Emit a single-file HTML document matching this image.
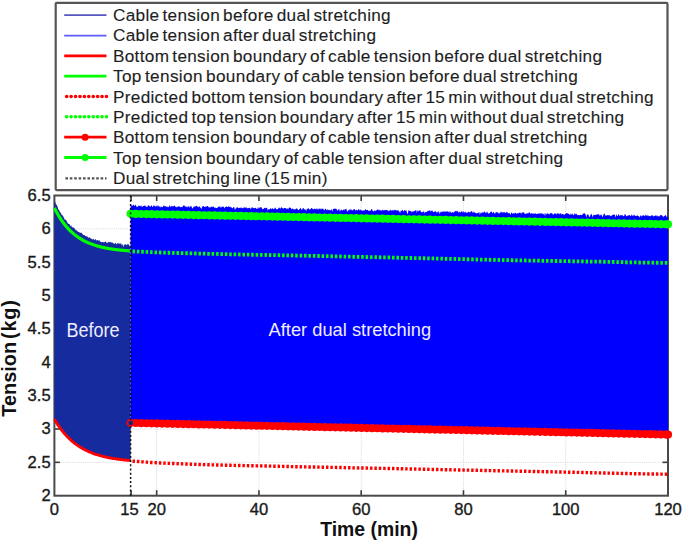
<!DOCTYPE html>
<html><head><meta charset="utf-8"><style>
html,body{margin:0;padding:0;background:#fff;}
body{width:685px;height:544px;overflow:hidden;font-family:"Liberation Sans",sans-serif;}
svg{display:block;}
</style></head><body>
<svg width="685" height="544" viewBox="0 0 685 544" font-family="Liberation Sans, sans-serif">
<rect width="685" height="544" fill="#fff"/>
<rect x="55.7" y="2.9" width="611.8" height="187.2" fill="#fff" stroke="#555" stroke-width="2.2" rx="1"/>
<line x1="64.2" y1="15.20" x2="106.5" y2="15.20" stroke="#5656c4" stroke-width="1.7"/><line x1="64.2" y1="35.53" x2="106.5" y2="35.53" stroke="#5c5cff" stroke-width="1.7"/><line x1="64.2" y1="55.86" x2="106.5" y2="55.86" stroke="#ff0000" stroke-width="2.8"/><line x1="64.2" y1="76.19" x2="106.5" y2="76.19" stroke="#00ff00" stroke-width="2.8"/><line x1="66.60000000000001" y1="96.52" x2="106.8" y2="96.52" stroke="#ff0000" stroke-width="3.5" stroke-linecap="round" stroke-dasharray="0.2 4.22"/><line x1="66.60000000000001" y1="116.85" x2="106.8" y2="116.85" stroke="#00ff00" stroke-width="3.5" stroke-linecap="round" stroke-dasharray="0.2 4.22"/><line x1="64.2" y1="137.18" x2="106.5" y2="137.18" stroke="#ff0000" stroke-width="2.8"/><circle cx="85.1" cy="137.18" r="3.5" fill="#ff0000"/><line x1="64.2" y1="157.51" x2="106.5" y2="157.51" stroke="#00ff00" stroke-width="2.8"/><circle cx="85.1" cy="157.51" r="3.5" fill="#00ff00"/><line x1="65.4" y1="178.34" x2="106.5" y2="178.34" stroke="#555" stroke-width="2.2" stroke-dasharray="2.6 1.8"/>
<g font-size="17.2" fill="#1e1e1e" stroke="#1e1e1e" stroke-width="0.12" letter-spacing="0.3" word-spacing="-2"><text x="113.0" y="20.90">Cable tension before dual stretching</text><text x="113.0" y="41.33">Cable tension after dual stretching</text><text x="113.0" y="61.76">Bottom tension boundary of cable tension before dual stretching</text><text x="113.0" y="82.19" letter-spacing="0.36">Top tension boundary of cable tension before dual stretching</text><text x="113.0" y="102.62">Predicted bottom tension boundary after 15 min without dual stretching</text><text x="113.0" y="123.05">Predicted top tension boundary after 15 min without dual stretching</text><text x="113.0" y="143.48">Bottom tension boundary of cable tension after dual stretching</text><text x="113.0" y="163.91" letter-spacing="0.36">Top tension boundary of cable tension after dual stretching</text><text x="113.0" y="184.34">Dual stretching line (15 min)</text></g>
<g stroke="#d4d4de" stroke-width="1" stroke-dasharray="1 1.2"><line x1="54.4" y1="462.34" x2="668.0" y2="462.34"/><line x1="54.4" y1="428.99" x2="668.0" y2="428.99"/><line x1="54.4" y1="395.63" x2="668.0" y2="395.63"/><line x1="54.4" y1="362.28" x2="668.0" y2="362.28"/><line x1="54.4" y1="328.92" x2="668.0" y2="328.92"/><line x1="54.4" y1="295.57" x2="668.0" y2="295.57"/><line x1="54.4" y1="262.21" x2="668.0" y2="262.21"/><line x1="54.4" y1="228.86" x2="668.0" y2="228.86"/><line x1="156.67" y1="195.5" x2="156.67" y2="495.7"/><line x1="258.93" y1="195.5" x2="258.93" y2="495.7"/><line x1="361.20" y1="195.5" x2="361.20" y2="495.7"/><line x1="463.47" y1="195.5" x2="463.47" y2="495.7"/><line x1="565.73" y1="195.5" x2="565.73" y2="495.7"/></g>
<g stroke="#3a3a3a" stroke-width="1.6"><line x1="54.4" y1="462.34" x2="59.9" y2="462.34"/><line x1="668.0" y1="462.34" x2="662.5" y2="462.34"/><line x1="54.4" y1="428.99" x2="59.9" y2="428.99"/><line x1="668.0" y1="428.99" x2="662.5" y2="428.99"/><line x1="54.4" y1="395.63" x2="59.9" y2="395.63"/><line x1="668.0" y1="395.63" x2="662.5" y2="395.63"/><line x1="54.4" y1="362.28" x2="59.9" y2="362.28"/><line x1="668.0" y1="362.28" x2="662.5" y2="362.28"/><line x1="54.4" y1="328.92" x2="59.9" y2="328.92"/><line x1="668.0" y1="328.92" x2="662.5" y2="328.92"/><line x1="54.4" y1="295.57" x2="59.9" y2="295.57"/><line x1="668.0" y1="295.57" x2="662.5" y2="295.57"/><line x1="54.4" y1="262.21" x2="59.9" y2="262.21"/><line x1="668.0" y1="262.21" x2="662.5" y2="262.21"/><line x1="54.4" y1="228.86" x2="59.9" y2="228.86"/><line x1="668.0" y1="228.86" x2="662.5" y2="228.86"/><line x1="131.10" y1="495.7" x2="131.10" y2="490.2"/><line x1="131.10" y1="195.5" x2="131.10" y2="201.0"/><line x1="156.67" y1="495.7" x2="156.67" y2="490.2"/><line x1="156.67" y1="195.5" x2="156.67" y2="201.0"/><line x1="258.93" y1="495.7" x2="258.93" y2="490.2"/><line x1="258.93" y1="195.5" x2="258.93" y2="201.0"/><line x1="361.20" y1="495.7" x2="361.20" y2="490.2"/><line x1="361.20" y1="195.5" x2="361.20" y2="201.0"/><line x1="463.47" y1="495.7" x2="463.47" y2="490.2"/><line x1="463.47" y1="195.5" x2="463.47" y2="201.0"/><line x1="565.73" y1="495.7" x2="565.73" y2="490.2"/><line x1="565.73" y1="195.5" x2="565.73" y2="201.0"/></g>
<rect x="54.4" y="195.5" width="613.60" height="300.20" fill="none" stroke="#4a4a4a" stroke-width="2"/>
<path d="M54.40,201.20 L55.20,201.95 L56.00,204.38 L56.80,204.81 L57.60,207.06 L58.40,209.52 L59.20,210.29 L60.00,212.37 L60.80,212.75 L61.60,214.65 L62.40,215.13 L63.20,216.27 L64.00,217.93 L64.80,219.68 L65.60,219.40 L66.40,220.53 L67.20,222.17 L68.00,223.63 L68.80,223.82 L69.60,224.31 L70.40,226.15 L71.20,225.24 L72.00,227.44 L72.80,227.13 L73.60,227.55 L74.40,228.16 L75.20,229.14 L76.00,230.67 L76.80,230.12 L77.60,231.41 L78.40,232.07 L79.20,232.12 L80.00,232.95 L80.80,232.57 L81.60,233.04 L82.40,233.76 L83.20,235.06 L84.00,235.03 L84.80,235.24 L85.60,236.13 L86.40,236.27 L87.20,236.36 L88.00,237.61 L88.80,237.78 L89.60,237.30 L90.40,238.21 L91.20,238.43 L92.00,239.36 L92.80,239.38 L93.60,238.86 L94.40,240.37 L95.20,239.08 L96.00,239.87 L96.80,240.72 L97.60,239.86 L98.40,240.68 L99.20,240.09 L100.00,241.43 L100.80,241.78 L101.60,242.14 L102.40,241.98 L103.20,241.93 L104.00,242.54 L104.80,242.03 L105.60,241.42 L106.40,242.61 L107.20,243.04 L108.00,242.38 L108.80,241.84 L109.60,242.21 L110.40,242.12 L111.20,242.35 L112.00,242.91 L112.80,242.45 L113.60,243.38 L114.40,243.95 L115.20,243.05 L116.00,243.27 L116.80,244.42 L117.60,243.08 L118.40,243.25 L119.20,243.96 L120.00,242.96 L120.80,243.67 L121.60,244.78 L122.40,244.04 L123.20,247.18 L124.00,244.61 L124.80,244.69 L125.60,244.01 L126.40,245.61 L127.20,243.74 L128.00,245.01 L128.80,243.70 L129.60,246.86 L130.40,244.59 L129.80,245.36 L130.60,245.41 L130.60,460.54 L130.40,460.52 L129.40,460.44 L128.40,460.35 L127.40,460.26 L126.40,460.16 L125.40,460.06 L124.40,459.96 L123.40,459.85 L122.40,459.74 L121.40,459.62 L120.40,459.50 L119.40,459.38 L118.40,459.24 L117.40,459.11 L116.40,458.97 L115.40,458.82 L114.40,458.66 L113.40,458.50 L112.40,458.33 L111.40,458.16 L110.40,457.98 L109.40,457.79 L108.40,457.59 L107.40,457.39 L106.40,457.18 L105.40,456.96 L104.40,456.73 L103.40,456.49 L102.40,456.24 L101.40,455.98 L100.40,455.71 L99.40,455.43 L98.40,455.13 L97.40,454.83 L96.40,454.51 L95.40,454.18 L94.40,453.84 L93.40,453.48 L92.40,453.11 L91.40,452.72 L90.40,452.32 L89.40,451.90 L88.40,451.46 L87.40,451.01 L86.40,450.53 L85.40,450.04 L84.40,449.53 L83.40,448.99 L82.40,448.44 L81.40,447.86 L80.40,447.26 L79.40,446.63 L78.40,445.98 L77.40,445.30 L76.40,444.60 L75.40,443.86 L74.40,443.10 L73.40,442.30 L72.40,441.47 L71.40,440.61 L70.40,439.72 L69.40,438.78 L68.40,437.81 L67.40,436.80 L66.40,435.74 L65.40,434.65 L64.40,433.51 L63.40,432.32 L62.40,431.09 L61.40,429.80 L60.40,428.46 L59.40,427.07 L58.40,425.62 L57.40,424.11 L56.40,422.54 L55.40,420.90 L54.40,419.20 Z" fill="#162c9e"/>
<path d="M130.60,204.91 L131.30,205.19 L132.00,206.36 L132.70,205.46 L133.40,204.56 L134.10,205.19 L134.80,206.37 L135.50,204.45 L136.20,205.68 L136.90,207.28 L137.60,206.79 L138.30,206.12 L139.00,205.34 L139.70,206.33 L140.40,206.36 L141.10,205.04 L141.80,206.88 L142.50,206.47 L143.20,206.32 L143.90,205.80 L144.60,205.70 L145.30,205.21 L146.00,206.90 L146.70,206.86 L147.40,206.92 L148.10,205.17 L148.80,205.13 L149.50,206.17 L150.20,206.70 L150.90,206.26 L151.60,204.91 L152.30,206.91 L153.00,206.54 L153.70,205.18 L154.40,205.56 L155.10,207.11 L155.80,205.76 L156.50,206.55 L157.20,205.12 L157.90,207.01 L158.60,205.20 L159.30,207.21 L160.00,205.72 L160.70,207.64 L161.40,206.46 L162.10,207.16 L162.80,207.02 L163.50,205.45 L164.20,205.66 L164.90,206.38 L165.60,205.99 L166.30,207.18 L167.00,206.11 L167.70,207.20 L168.40,207.24 L169.10,206.33 L169.80,205.11 L170.50,207.62 L171.20,205.51 L171.90,206.85 L172.60,205.90 L173.30,206.47 L174.00,205.40 L174.70,205.76 L175.40,207.03 L176.10,206.54 L176.80,207.39 L177.50,206.69 L178.20,206.46 L178.90,206.33 L179.60,206.40 L180.30,206.95 L181.00,207.55 L181.70,206.64 L182.40,207.33 L183.10,205.62 L183.80,205.51 L184.50,205.53 L185.20,207.25 L185.90,205.75 L186.60,206.98 L187.30,207.53 L188.00,205.95 L188.70,206.39 L189.40,207.82 L190.10,205.85 L190.80,206.71 L191.50,205.96 L192.20,208.84 L192.90,207.74 L193.60,207.03 L194.30,205.70 L195.00,207.45 L195.70,205.82 L196.40,205.68 L197.10,206.25 L197.80,206.63 L198.50,207.59 L199.20,206.00 L199.90,207.02 L200.60,207.76 L201.30,209.08 L202.00,207.22 L202.70,205.91 L203.40,205.88 L204.10,206.83 L204.80,207.08 L205.50,206.41 L206.20,207.04 L206.90,206.05 L207.60,205.93 L208.30,206.57 L209.00,207.65 L209.70,207.05 L210.40,207.69 L211.10,205.91 L211.80,207.21 L212.50,207.04 L213.20,206.17 L213.90,206.96 L214.60,207.94 L215.30,207.17 L216.00,208.33 L216.70,207.98 L217.40,207.52 L218.10,207.60 L218.80,206.19 L219.50,206.65 L220.20,206.25 L220.90,208.15 L221.60,206.75 L222.30,206.80 L223.00,206.48 L223.70,206.75 L224.40,208.47 L225.10,206.73 L225.80,206.90 L226.50,206.18 L227.20,207.33 L227.90,206.68 L228.60,206.23 L229.30,206.44 L230.00,207.45 L230.70,206.81 L231.40,207.54 L232.10,207.86 L232.80,208.41 L233.50,207.09 L234.20,206.68 L234.90,210.05 L235.60,208.49 L236.30,208.13 L237.00,206.71 L237.70,207.60 L238.40,208.34 L239.10,207.82 L239.80,208.07 L240.50,207.77 L241.20,207.33 L241.90,208.48 L242.60,207.99 L243.30,208.14 L244.00,206.52 L244.70,208.33 L245.40,207.83 L246.10,206.72 L246.80,208.21 L247.50,208.33 L248.20,208.37 L248.90,207.80 L249.60,207.77 L250.30,208.48 L251.00,208.99 L251.70,207.28 L252.40,207.41 L253.10,207.76 L253.80,208.32 L254.50,208.34 L255.20,207.97 L255.90,207.87 L256.60,208.91 L257.30,209.12 L258.00,206.83 L258.70,208.77 L259.40,207.90 L260.10,207.33 L260.80,207.35 L261.50,207.20 L262.20,209.16 L262.90,208.85 L263.60,209.03 L264.30,207.47 L265.00,208.60 L265.70,208.12 L266.40,207.68 L267.10,207.79 L267.80,211.00 L268.50,209.01 L269.20,209.23 L269.90,209.19 L270.60,207.93 L271.30,209.45 L272.00,207.93 L272.70,208.44 L273.40,209.09 L274.10,209.35 L274.80,207.76 L275.50,207.59 L276.20,209.44 L276.90,209.11 L277.60,209.36 L278.30,208.50 L279.00,207.32 L279.70,208.30 L280.40,208.77 L281.10,207.36 L281.80,207.56 L282.50,208.09 L283.20,209.06 L283.90,207.92 L284.60,208.03 L285.30,208.27 L286.00,207.72 L286.70,209.52 L287.40,207.89 L288.10,209.77 L288.80,207.73 L289.50,207.62 L290.20,207.64 L290.90,208.05 L291.60,209.58 L292.30,208.45 L293.00,208.73 L293.70,209.35 L294.40,209.82 L295.10,208.72 L295.80,209.60 L296.50,208.19 L297.20,208.51 L297.90,209.86 L298.60,210.24 L299.30,209.30 L300.00,208.75 L300.70,207.62 L301.40,209.86 L302.10,209.70 L302.80,208.26 L303.50,208.05 L304.20,209.33 L304.90,209.44 L305.60,209.55 L306.30,211.12 L307.00,208.30 L307.70,209.31 L308.40,208.08 L309.10,209.31 L309.80,209.62 L310.50,209.21 L311.20,208.37 L311.90,207.87 L312.60,208.96 L313.30,209.42 L314.00,209.02 L314.70,208.49 L315.40,209.60 L316.10,207.98 L316.80,209.56 L317.50,208.57 L318.20,210.19 L318.90,208.06 L319.60,209.00 L320.30,208.48 L321.00,209.79 L321.70,208.53 L322.40,208.80 L323.10,208.62 L323.80,209.90 L324.50,210.37 L325.20,208.55 L325.90,209.12 L326.60,210.41 L327.30,209.09 L328.00,210.49 L328.70,209.58 L329.40,210.34 L330.10,209.96 L330.80,210.45 L331.50,208.67 L332.20,211.86 L332.90,209.16 L333.60,209.06 L334.30,208.29 L335.00,209.14 L335.70,208.60 L336.40,208.82 L337.10,210.31 L337.80,210.83 L338.50,209.26 L339.20,208.84 L339.90,211.86 L340.60,210.35 L341.30,209.14 L342.00,210.64 L342.70,210.24 L343.40,209.27 L344.10,210.77 L344.80,209.11 L345.50,209.26 L346.20,208.52 L346.90,210.73 L347.60,211.77 L348.30,209.69 L349.00,210.86 L349.70,209.18 L350.40,209.78 L351.10,209.05 L351.80,210.39 L352.50,210.49 L353.20,209.44 L353.90,209.53 L354.60,208.87 L355.30,210.50 L356.00,210.46 L356.70,209.50 L357.40,210.85 L358.10,209.38 L358.80,208.99 L359.50,210.48 L360.20,209.35 L360.90,210.29 L361.60,210.61 L362.30,210.42 L363.00,210.86 L363.70,210.21 L364.40,210.64 L365.10,209.48 L365.80,209.26 L366.50,210.30 L367.20,209.87 L367.90,210.15 L368.60,210.89 L369.30,211.34 L370.00,210.12 L370.70,211.01 L371.40,209.10 L372.10,209.30 L372.80,211.37 L373.50,211.28 L374.20,211.14 L374.90,209.70 L375.60,211.36 L376.30,210.53 L377.00,209.64 L377.70,209.47 L378.40,209.75 L379.10,210.72 L379.80,209.20 L380.50,210.81 L381.20,209.95 L381.90,211.12 L382.60,209.38 L383.30,210.19 L384.00,210.79 L384.70,209.66 L385.40,210.26 L386.10,210.03 L386.80,210.06 L387.50,210.18 L388.20,211.41 L388.90,210.22 L389.60,211.11 L390.30,209.39 L391.00,210.40 L391.70,210.38 L392.40,210.52 L393.10,209.46 L393.80,210.98 L394.50,209.67 L395.20,210.36 L395.90,209.83 L396.60,210.75 L397.30,209.77 L398.00,211.46 L398.70,210.01 L399.40,211.82 L400.10,213.08 L400.80,210.51 L401.50,211.08 L402.20,209.99 L402.90,210.15 L403.60,211.67 L404.30,210.09 L405.00,210.62 L405.70,210.60 L406.40,210.28 L407.10,213.48 L407.80,213.71 L408.50,210.01 L409.20,211.06 L409.90,210.49 L410.60,211.17 L411.30,211.37 L412.00,212.59 L412.70,210.99 L413.40,211.66 L414.10,210.94 L414.80,210.99 L415.50,210.17 L416.20,210.10 L416.90,212.89 L417.60,210.10 L418.30,211.79 L419.00,210.07 L419.70,210.86 L420.40,210.29 L421.10,212.37 L421.80,211.95 L422.50,212.36 L423.20,212.31 L423.90,210.43 L424.60,213.48 L425.30,211.87 L426.00,212.22 L426.70,212.04 L427.40,211.30 L428.10,210.61 L428.80,211.34 L429.50,210.23 L430.20,210.54 L430.90,211.80 L431.60,210.59 L432.30,210.47 L433.00,211.74 L433.70,212.32 L434.40,211.63 L435.10,210.50 L435.80,211.77 L436.50,212.19 L437.20,212.67 L437.90,211.17 L438.60,211.38 L439.30,214.26 L440.00,210.95 L440.70,212.72 L441.40,211.97 L442.10,211.19 L442.80,211.88 L443.50,211.64 L444.20,210.74 L444.90,212.51 L445.60,211.31 L446.30,211.33 L447.00,211.88 L447.70,210.99 L448.40,211.65 L449.10,212.77 L449.80,210.90 L450.50,212.08 L451.20,212.44 L451.90,213.00 L452.60,211.94 L453.30,212.15 L454.00,212.87 L454.70,211.23 L455.40,210.75 L456.10,211.63 L456.80,210.81 L457.50,210.72 L458.20,212.96 L458.90,211.19 L459.60,211.94 L460.30,212.69 L461.00,211.50 L461.70,210.89 L462.40,212.66 L463.10,210.81 L463.80,212.60 L464.50,212.60 L465.20,211.38 L465.90,212.58 L466.60,212.66 L467.30,212.91 L468.00,211.53 L468.70,211.95 L469.40,212.18 L470.10,212.47 L470.80,211.47 L471.50,211.00 L472.20,211.54 L472.90,213.26 L473.60,211.79 L474.30,211.80 L475.00,213.21 L475.70,212.71 L476.40,213.41 L477.10,213.09 L477.80,213.14 L478.50,212.84 L479.20,211.85 L479.90,214.94 L480.60,212.20 L481.30,213.38 L482.00,212.09 L482.70,212.84 L483.40,212.87 L484.10,211.36 L484.80,212.09 L485.50,213.20 L486.20,211.41 L486.90,213.46 L487.60,211.53 L488.30,213.75 L489.00,213.25 L489.70,213.30 L490.40,212.02 L491.10,211.58 L491.80,211.85 L492.50,213.40 L493.20,212.06 L493.90,212.28 L494.60,213.73 L495.30,213.47 L496.00,211.51 L496.70,212.50 L497.40,212.30 L498.10,212.77 L498.80,213.56 L499.50,213.48 L500.20,211.52 L500.90,213.36 L501.60,211.56 L502.30,212.74 L503.00,212.02 L503.70,212.42 L504.40,212.23 L505.10,212.30 L505.80,213.31 L506.50,211.91 L507.20,211.85 L507.90,213.35 L508.60,213.19 L509.30,212.66 L510.00,213.85 L510.70,214.77 L511.40,212.37 L512.10,212.96 L512.80,213.89 L513.50,212.89 L514.20,213.61 L514.90,213.36 L515.60,212.61 L516.30,213.86 L517.00,213.63 L517.70,212.92 L518.40,213.27 L519.10,213.00 L519.80,212.48 L520.50,212.64 L521.20,213.96 L521.90,212.32 L522.60,212.74 L523.30,212.36 L524.00,212.44 L524.70,213.75 L525.40,214.32 L526.10,212.95 L526.80,213.95 L527.50,213.10 L528.20,213.60 L528.90,212.58 L529.60,212.18 L530.30,214.01 L531.00,213.32 L531.70,213.25 L532.40,213.60 L533.10,213.94 L533.80,213.21 L534.50,213.99 L535.20,212.75 L535.90,214.33 L536.60,213.91 L537.30,213.88 L538.00,213.35 L538.70,213.78 L539.40,213.29 L540.10,214.01 L540.80,212.91 L541.50,213.42 L542.20,213.32 L542.90,214.59 L543.60,213.94 L544.30,213.32 L545.00,216.32 L545.70,212.80 L546.40,214.68 L547.10,212.68 L547.80,213.75 L548.50,213.69 L549.20,214.47 L549.90,213.48 L550.60,213.01 L551.30,213.46 L552.00,212.83 L552.70,214.45 L553.40,214.86 L554.10,213.58 L554.80,213.43 L555.50,213.14 L556.20,214.87 L556.90,213.15 L557.60,213.58 L558.30,212.97 L559.00,214.61 L559.70,213.81 L560.40,213.24 L561.10,213.56 L561.80,214.69 L562.50,213.86 L563.20,214.07 L563.90,214.77 L564.60,214.82 L565.30,213.70 L566.00,213.83 L566.70,212.83 L567.40,213.51 L568.10,213.57 L568.80,213.89 L569.50,214.46 L570.20,215.12 L570.90,213.04 L571.60,215.09 L572.30,213.27 L573.00,214.99 L573.70,215.24 L574.40,213.57 L575.10,213.33 L575.80,214.86 L576.50,213.38 L577.20,214.93 L577.90,215.18 L578.60,214.93 L579.30,215.21 L580.00,215.09 L580.70,214.76 L581.40,214.89 L582.10,215.24 L582.80,213.77 L583.50,213.48 L584.20,213.30 L584.90,213.52 L585.60,214.39 L586.30,217.46 L587.00,214.34 L587.70,214.83 L588.40,214.14 L589.10,217.34 L589.80,216.52 L590.50,214.92 L591.20,214.09 L591.90,214.54 L592.60,217.42 L593.30,214.84 L594.00,215.42 L594.70,214.51 L595.40,215.23 L596.10,214.44 L596.80,214.74 L597.50,214.13 L598.20,214.41 L598.90,214.10 L599.60,215.80 L600.30,215.38 L601.00,214.25 L601.70,214.91 L602.40,217.35 L603.10,215.66 L603.80,213.66 L604.50,213.57 L605.20,215.78 L605.90,215.17 L606.60,215.78 L607.30,215.09 L608.00,215.30 L608.70,215.28 L609.40,215.26 L610.10,215.50 L610.80,216.17 L611.50,215.89 L612.20,214.60 L612.90,215.61 L613.60,214.36 L614.30,214.76 L615.00,214.80 L615.70,217.65 L616.40,213.89 L617.10,215.75 L617.80,216.02 L618.50,213.87 L619.20,215.27 L619.90,216.21 L620.60,214.86 L621.30,215.43 L622.00,214.78 L622.70,215.56 L623.40,216.25 L624.10,216.03 L624.80,214.00 L625.50,214.55 L626.20,216.48 L626.90,215.71 L627.60,215.76 L628.30,215.53 L629.00,215.14 L629.70,214.66 L630.40,216.32 L631.10,215.64 L631.80,214.28 L632.50,215.86 L633.20,216.19 L633.90,214.28 L634.60,215.53 L635.30,215.79 L636.00,216.09 L636.70,215.74 L637.40,215.21 L638.10,216.10 L638.80,216.11 L639.50,217.39 L640.20,215.94 L640.90,215.07 L641.60,216.63 L642.30,215.74 L643.00,215.34 L643.70,215.23 L644.40,215.78 L645.10,216.29 L645.80,214.37 L646.50,215.39 L647.20,216.35 L647.90,214.51 L648.60,216.37 L649.30,215.81 L650.00,216.49 L650.70,216.11 L651.40,215.31 L652.10,215.82 L652.80,214.98 L653.50,216.75 L654.20,215.99 L654.90,215.66 L655.60,215.17 L656.30,216.47 L657.00,214.80 L657.70,216.45 L658.40,216.00 L659.10,216.75 L659.80,215.78 L660.50,215.11 L661.20,215.10 L661.90,215.55 L662.60,215.66 L663.30,217.56 L664.00,215.62 L664.70,216.25 L665.40,215.12 L666.10,215.59 L666.80,217.31 L667.50,216.87 L668.00,216.00 L668.00,434.60 L130.60,422.90 Z" fill="#0000ff"/>
<path d="M54.40,419.20 L55.10,420.40 L55.80,421.56 L56.50,422.70 L57.20,423.80 L57.90,424.87 L58.60,425.91 L59.30,426.92 L60.00,427.91 L60.70,428.87 L61.40,429.80 L62.10,430.70 L62.80,431.59 L63.50,432.44 L64.20,433.27 L64.90,434.08 L65.60,434.87 L66.30,435.64 L67.00,436.38 L67.70,437.11 L68.40,437.81 L69.10,438.49 L69.80,439.16 L70.50,439.81 L71.20,440.44 L71.90,441.05 L72.60,441.64 L73.30,442.22 L74.00,442.78 L74.70,443.33 L75.40,443.86 L76.10,444.38 L76.80,444.88 L77.50,445.37 L78.20,445.85 L78.90,446.31 L79.60,446.76 L80.30,447.20 L81.00,447.62 L81.70,448.04 L82.40,448.44 L83.10,448.83 L83.80,449.21 L84.50,449.58 L85.20,449.94 L85.90,450.29 L86.60,450.63 L87.30,450.96 L88.00,451.28 L88.70,451.59 L89.40,451.90 L90.10,452.19 L90.80,452.48 L91.50,452.76 L92.20,453.03 L92.90,453.30 L93.60,453.55 L94.30,453.80 L95.00,454.05 L95.70,454.28 L96.40,454.51 L97.10,454.73 L97.80,454.95 L98.50,455.16 L99.20,455.37 L99.90,455.57 L100.60,455.76 L101.30,455.95 L102.00,456.13 L102.70,456.31 L103.40,456.49 L104.10,456.66 L104.80,456.82 L105.50,456.98 L106.20,457.13 L106.90,457.29 L107.60,457.43 L108.30,457.57 L109.00,457.71 L109.70,457.85 L110.40,457.98 L111.10,458.11 L111.80,458.23 L112.50,458.35 L113.20,458.47 L113.90,458.58 L114.60,458.69 L115.30,458.80 L116.00,458.91 L116.70,459.01 L117.40,459.11 L118.10,459.20 L118.80,459.30 L119.50,459.39 L120.20,459.48 L120.90,459.56 L121.60,459.65 L122.30,459.73 L123.00,459.81 L123.70,459.89 L124.40,459.96 L125.10,460.03 L125.80,460.10 L126.50,460.17 L127.20,460.24 L127.90,460.31 L128.60,460.37 L129.30,460.43 L130.00,460.49 L130.60,460.54" fill="none" stroke="#ff0000" stroke-width="2.9"/>
<path d="M54.40,208.00 L55.10,209.39 L55.80,210.73 L56.50,212.03 L57.20,213.29 L57.90,214.52 L58.60,215.70 L59.30,216.85 L60.00,217.96 L60.70,219.03 L61.40,220.07 L62.10,221.08 L62.80,222.06 L63.50,223.01 L64.20,223.92 L64.90,224.81 L65.60,225.67 L66.30,226.51 L67.00,227.32 L67.70,228.10 L68.40,228.86 L69.10,229.59 L69.80,230.30 L70.50,230.99 L71.20,231.66 L71.90,232.30 L72.60,232.93 L73.30,233.54 L74.00,234.12 L74.70,234.69 L75.40,235.25 L76.10,235.78 L76.80,236.30 L77.50,236.80 L78.20,237.28 L78.90,237.75 L79.60,238.21 L80.30,238.65 L81.00,239.08 L81.70,239.49 L82.40,239.89 L83.10,240.28 L83.80,240.66 L84.50,241.02 L85.20,241.38 L85.90,241.72 L86.60,242.05 L87.30,242.37 L88.00,242.68 L88.70,242.98 L89.40,243.27 L90.10,243.56 L90.80,243.83 L91.50,244.10 L92.20,244.35 L92.90,244.60 L93.60,244.84 L94.30,245.08 L95.00,245.30 L95.70,245.52 L96.40,245.73 L97.10,245.94 L97.80,246.14 L98.50,246.33 L99.20,246.52 L99.90,246.70 L100.60,246.88 L101.30,247.05 L102.00,247.21 L102.70,247.37 L103.40,247.52 L104.10,247.67 L104.80,247.82 L105.50,247.96 L106.20,248.09 L106.90,248.23 L107.60,248.35 L108.30,248.48 L109.00,248.60 L109.70,248.71 L110.40,248.83 L111.10,248.93 L111.80,249.04 L112.50,249.14 L113.20,249.24 L113.90,249.34 L114.60,249.43 L115.30,249.52 L116.00,249.61 L116.70,249.69 L117.40,249.77 L118.10,249.85 L118.80,249.93 L119.50,250.00 L120.20,250.07 L120.90,250.14 L121.60,250.21 L122.30,250.28 L123.00,250.34 L123.70,250.40 L124.40,250.46 L125.10,250.52 L125.80,250.57 L126.50,250.63 L127.20,250.68 L127.90,250.73 L128.60,250.78 L129.30,250.83 L130.00,250.87 L130.60,250.92" fill="none" stroke="#00ff00" stroke-width="3.2"/>
<path d="M132.50,461.08 L134.50,461.20 L136.50,461.34 L138.50,461.49 L140.50,461.65 L142.50,461.82 L144.50,461.99 L146.50,462.15 L148.50,462.30 L150.50,462.43 L152.50,462.54 L154.50,462.65 L156.50,462.75 L158.50,462.85 L160.50,462.95 L162.50,463.04 L164.50,463.14 L166.50,463.23 L168.50,463.33 L170.50,463.42 L172.50,463.49 L174.50,463.57 L176.50,463.65 L178.50,463.72 L180.50,463.80 L182.50,463.88 L184.50,463.95 L186.50,464.03 L188.50,464.11 L190.50,464.18 L192.50,464.25 L194.50,464.33 L196.50,464.40 L198.50,464.46 L200.50,464.51 L202.50,464.57 L204.50,464.63 L206.50,464.68 L208.50,464.74 L210.50,464.79 L212.50,464.85 L214.50,464.90 L216.50,464.96 L218.50,465.01 L220.50,465.06 L222.50,465.11 L224.50,465.16 L226.50,465.21 L228.50,465.26 L230.50,465.31 L232.50,465.36 L234.50,465.40 L236.50,465.44 L238.50,465.49 L240.50,465.53 L242.50,465.57 L244.50,465.61 L246.50,465.65 L248.50,465.69 L250.50,465.72 L252.50,465.76 L254.50,465.80 L256.50,465.84 L258.50,465.88 L260.50,465.92 L262.50,465.97 L264.50,466.01 L266.50,466.05 L268.50,466.09 L270.50,466.14 L272.50,466.18 L274.50,466.22 L276.50,466.26 L278.50,466.31 L280.50,466.35 L282.50,466.39 L284.50,466.44 L286.50,466.48 L288.50,466.53 L290.50,466.57 L292.50,466.62 L294.50,466.67 L296.50,466.71 L298.50,466.76 L300.50,466.81 L302.50,466.84 L304.50,466.88 L306.50,466.91 L308.50,466.95 L310.50,466.98 L312.50,467.01 L314.50,467.05 L316.50,467.08 L318.50,467.11 L320.50,467.15 L322.50,467.18 L324.50,467.22 L326.50,467.25 L328.50,467.29 L330.50,467.33 L332.50,467.37 L334.50,467.41 L336.50,467.45 L338.50,467.50 L340.50,467.54 L342.50,467.59 L344.50,467.65 L346.50,467.70 L348.50,467.76 L350.50,467.81 L352.50,467.84 L354.50,467.87 L356.50,467.90 L358.50,467.93 L360.50,467.97 L362.50,468.00 L364.50,468.04 L366.50,468.07 L368.50,468.11 L370.50,468.14 L372.50,468.18 L374.50,468.22 L376.50,468.25 L378.50,468.29 L380.50,468.33 L382.50,468.37 L384.50,468.41 L386.50,468.45 L388.50,468.49 L390.50,468.53 L392.50,468.57 L394.50,468.61 L396.50,468.65 L398.50,468.69 L400.50,468.74 L402.50,468.78 L404.50,468.82 L406.50,468.86 L408.50,468.91 L410.50,468.95 L412.50,468.99 L414.50,469.03 L416.50,469.08 L418.50,469.12 L420.50,469.16 L422.50,469.21 L424.50,469.25 L426.50,469.30 L428.50,469.34 L430.50,469.38 L432.50,469.43 L434.50,469.47 L436.50,469.51 L438.50,469.56 L440.50,469.60 L442.50,469.64 L444.50,469.68 L446.50,469.73 L448.50,469.77 L450.50,469.81 L452.50,469.85 L454.50,469.89 L456.50,469.92 L458.50,469.96 L460.50,470.00 L462.50,470.04 L464.50,470.08 L466.50,470.12 L468.50,470.16 L470.50,470.20 L472.50,470.24 L474.50,470.28 L476.50,470.32 L478.50,470.36 L480.50,470.40 L482.50,470.44 L484.50,470.48 L486.50,470.52 L488.50,470.56 L490.50,470.60 L492.50,470.64 L494.50,470.68 L496.50,470.72 L498.50,470.76 L500.50,470.80 L502.50,470.84 L504.50,470.88 L506.50,470.92 L508.50,470.96 L510.50,471.00 L512.50,471.04 L514.50,471.08 L516.50,471.12 L518.50,471.16 L520.50,471.20 L522.50,471.24 L524.50,471.28 L526.50,471.32 L528.50,471.36 L530.50,471.40 L532.50,471.45 L534.50,471.49 L536.50,471.53 L538.50,471.57 L540.50,471.61 L542.50,471.65 L544.50,471.69 L546.50,471.73 L548.50,471.77 L550.50,471.81 L552.50,471.85 L554.50,471.89 L556.50,471.93 L558.50,471.97 L560.50,472.01 L562.50,472.05 L564.50,472.09 L566.50,472.14 L568.50,472.18 L570.50,472.22 L572.50,472.27 L574.50,472.31 L576.50,472.36 L578.50,472.40 L580.50,472.45 L582.50,472.50 L584.50,472.54 L586.50,472.59 L588.50,472.64 L590.50,472.68 L592.50,472.73 L594.50,472.78 L596.50,472.83 L598.50,472.87 L600.50,472.92 L602.50,472.97 L604.50,473.02 L606.50,473.06 L608.50,473.11 L610.50,473.16 L612.50,473.20 L614.50,473.25 L616.50,473.29 L618.50,473.34 L620.50,473.38 L622.50,473.43 L624.50,473.47 L626.50,473.51 L628.50,473.56 L630.50,473.60 L632.50,473.64 L634.50,473.68 L636.50,473.72 L638.50,473.76 L640.50,473.80 L642.50,473.83 L644.50,473.87 L646.50,473.90 L648.50,473.94 L650.50,473.97 L652.50,474.00 L654.50,474.03 L656.50,474.06 L658.50,474.09 L660.50,474.11 L662.50,474.14 L664.50,474.16 L666.50,474.18 L668.00,474.20" fill="none" stroke="#ff0000" stroke-width="3.4" stroke-dasharray="2.5 1.9"/>
<path d="M132.50,251.44 L134.50,251.49 L136.50,251.55 L138.50,251.62 L140.50,251.69 L142.50,251.77 L144.50,251.85 L146.50,251.93 L148.50,252.02 L150.50,252.11 L152.50,252.19 L154.50,252.28 L156.50,252.36 L158.50,252.44 L160.50,252.51 L162.50,252.57 L164.50,252.62 L166.50,252.68 L168.50,252.73 L170.50,252.79 L172.50,252.84 L174.50,252.90 L176.50,252.95 L178.50,253.01 L180.50,253.06 L182.50,253.12 L184.50,253.17 L186.50,253.23 L188.50,253.28 L190.50,253.34 L192.50,253.39 L194.50,253.45 L196.50,253.50 L198.50,253.56 L200.50,253.61 L202.50,253.66 L204.50,253.70 L206.50,253.74 L208.50,253.79 L210.50,253.83 L212.50,253.88 L214.50,253.92 L216.50,253.97 L218.50,254.02 L220.50,254.06 L222.50,254.11 L224.50,254.15 L226.50,254.20 L228.50,254.24 L230.50,254.29 L232.50,254.33 L234.50,254.37 L236.50,254.42 L238.50,254.46 L240.50,254.50 L242.50,254.55 L244.50,254.59 L246.50,254.63 L248.50,254.67 L250.50,254.71 L252.50,254.75 L254.50,254.79 L256.50,254.83 L258.50,254.86 L260.50,254.90 L262.50,254.93 L264.50,254.97 L266.50,255.00 L268.50,255.04 L270.50,255.07 L272.50,255.11 L274.50,255.14 L276.50,255.18 L278.50,255.21 L280.50,255.24 L282.50,255.28 L284.50,255.31 L286.50,255.35 L288.50,255.38 L290.50,255.42 L292.50,255.46 L294.50,255.49 L296.50,255.53 L298.50,255.57 L300.50,255.61 L302.50,255.65 L304.50,255.69 L306.50,255.73 L308.50,255.78 L310.50,255.82 L312.50,255.86 L314.50,255.90 L316.50,255.95 L318.50,255.99 L320.50,256.04 L322.50,256.08 L324.50,256.13 L326.50,256.17 L328.50,256.22 L330.50,256.26 L332.50,256.31 L334.50,256.35 L336.50,256.40 L338.50,256.44 L340.50,256.49 L342.50,256.53 L344.50,256.58 L346.50,256.62 L348.50,256.67 L350.50,256.71 L352.50,256.75 L354.50,256.79 L356.50,256.83 L358.50,256.87 L360.50,256.91 L362.50,256.95 L364.50,256.99 L366.50,257.02 L368.50,257.06 L370.50,257.10 L372.50,257.13 L374.50,257.17 L376.50,257.21 L378.50,257.25 L380.50,257.29 L382.50,257.33 L384.50,257.38 L386.50,257.42 L388.50,257.47 L390.50,257.52 L392.50,257.58 L394.50,257.63 L396.50,257.69 L398.50,257.75 L400.50,257.81 L402.50,257.84 L404.50,257.88 L406.50,257.91 L408.50,257.95 L410.50,257.99 L412.50,258.03 L414.50,258.07 L416.50,258.11 L418.50,258.15 L420.50,258.19 L422.50,258.23 L424.50,258.27 L426.50,258.32 L428.50,258.36 L430.50,258.41 L432.50,258.45 L434.50,258.50 L436.50,258.54 L438.50,258.59 L440.50,258.64 L442.50,258.68 L444.50,258.73 L446.50,258.78 L448.50,258.83 L450.50,258.87 L452.50,258.92 L454.50,258.97 L456.50,259.02 L458.50,259.07 L460.50,259.12 L462.50,259.16 L464.50,259.21 L466.50,259.26 L468.50,259.31 L470.50,259.35 L472.50,259.40 L474.50,259.45 L476.50,259.49 L478.50,259.54 L480.50,259.59 L482.50,259.63 L484.50,259.68 L486.50,259.72 L488.50,259.76 L490.50,259.81 L492.50,259.85 L494.50,259.89 L496.50,259.93 L498.50,259.97 L500.50,260.01 L502.50,260.05 L504.50,260.09 L506.50,260.13 L508.50,260.16 L510.50,260.20 L512.50,260.24 L514.50,260.28 L516.50,260.31 L518.50,260.35 L520.50,260.39 L522.50,260.43 L524.50,260.46 L526.50,260.50 L528.50,260.54 L530.50,260.57 L532.50,260.61 L534.50,260.64 L536.50,260.68 L538.50,260.71 L540.50,260.75 L542.50,260.78 L544.50,260.82 L546.50,260.85 L548.50,260.89 L550.50,260.92 L552.50,260.95 L554.50,260.99 L556.50,261.02 L558.50,261.06 L560.50,261.09 L562.50,261.12 L564.50,261.15 L566.50,261.19 L568.50,261.22 L570.50,261.25 L572.50,261.28 L574.50,261.31 L576.50,261.35 L578.50,261.38 L580.50,261.41 L582.50,261.44 L584.50,261.47 L586.50,261.50 L588.50,261.53 L590.50,261.56 L592.50,261.59 L594.50,261.62 L596.50,261.65 L598.50,261.68 L600.50,261.71 L602.50,261.75 L604.50,261.80 L606.50,261.84 L608.50,261.88 L610.50,261.92 L612.50,261.97 L614.50,262.01 L616.50,262.05 L618.50,262.09 L620.50,262.14 L622.50,262.18 L624.50,262.22 L626.50,262.26 L628.50,262.30 L630.50,262.34 L632.50,262.38 L634.50,262.42 L636.50,262.45 L638.50,262.49 L640.50,262.53 L642.50,262.56 L644.50,262.59 L646.50,262.63 L648.50,262.66 L650.50,262.69 L652.50,262.72 L654.50,262.75 L656.50,262.77 L658.50,262.80 L660.50,262.82 L662.50,262.85 L664.50,262.87 L666.50,262.89 L668.00,262.90" fill="none" stroke="#00ff00" stroke-width="3.8" stroke-dasharray="2.5 1.9"/>
<line x1="134.2" y1="422.98" x2="668" y2="434.60" stroke="#ff0000" stroke-width="5.6"/>
<g fill="#ff0000"><circle cx="135.85" cy="423.01" r="4.1"/><circle cx="141.10" cy="423.13" r="4.1"/><circle cx="146.35" cy="423.24" r="4.1"/><circle cx="151.60" cy="423.36" r="4.1"/><circle cx="156.85" cy="423.47" r="4.1"/><circle cx="162.10" cy="423.59" r="4.1"/><circle cx="167.35" cy="423.70" r="4.1"/><circle cx="172.60" cy="423.81" r="4.1"/><circle cx="177.85" cy="423.93" r="4.1"/><circle cx="183.10" cy="424.04" r="4.1"/><circle cx="188.35" cy="424.16" r="4.1"/><circle cx="193.60" cy="424.27" r="4.1"/><circle cx="198.85" cy="424.39" r="4.1"/><circle cx="204.10" cy="424.50" r="4.1"/><circle cx="209.35" cy="424.61" r="4.1"/><circle cx="214.60" cy="424.73" r="4.1"/><circle cx="219.85" cy="424.84" r="4.1"/><circle cx="225.10" cy="424.96" r="4.1"/><circle cx="230.35" cy="425.07" r="4.1"/><circle cx="235.60" cy="425.19" r="4.1"/><circle cx="240.85" cy="425.30" r="4.1"/><circle cx="246.10" cy="425.41" r="4.1"/><circle cx="251.35" cy="425.53" r="4.1"/><circle cx="256.60" cy="425.64" r="4.1"/><circle cx="261.85" cy="425.76" r="4.1"/><circle cx="267.10" cy="425.87" r="4.1"/><circle cx="272.35" cy="425.99" r="4.1"/><circle cx="277.60" cy="426.10" r="4.1"/><circle cx="282.85" cy="426.21" r="4.1"/><circle cx="288.10" cy="426.33" r="4.1"/><circle cx="293.35" cy="426.44" r="4.1"/><circle cx="298.60" cy="426.56" r="4.1"/><circle cx="303.85" cy="426.67" r="4.1"/><circle cx="309.10" cy="426.79" r="4.1"/><circle cx="314.35" cy="426.90" r="4.1"/><circle cx="319.60" cy="427.01" r="4.1"/><circle cx="324.85" cy="427.13" r="4.1"/><circle cx="330.10" cy="427.24" r="4.1"/><circle cx="335.35" cy="427.36" r="4.1"/><circle cx="340.60" cy="427.47" r="4.1"/><circle cx="345.85" cy="427.59" r="4.1"/><circle cx="351.10" cy="427.70" r="4.1"/><circle cx="356.35" cy="427.81" r="4.1"/><circle cx="361.60" cy="427.93" r="4.1"/><circle cx="366.85" cy="428.04" r="4.1"/><circle cx="372.10" cy="428.16" r="4.1"/><circle cx="377.35" cy="428.27" r="4.1"/><circle cx="382.60" cy="428.39" r="4.1"/><circle cx="387.85" cy="428.50" r="4.1"/><circle cx="393.10" cy="428.62" r="4.1"/><circle cx="398.35" cy="428.73" r="4.1"/><circle cx="403.60" cy="428.84" r="4.1"/><circle cx="408.85" cy="428.96" r="4.1"/><circle cx="414.10" cy="429.07" r="4.1"/><circle cx="419.35" cy="429.19" r="4.1"/><circle cx="424.60" cy="429.30" r="4.1"/><circle cx="429.85" cy="429.42" r="4.1"/><circle cx="435.10" cy="429.53" r="4.1"/><circle cx="440.35" cy="429.64" r="4.1"/><circle cx="445.60" cy="429.76" r="4.1"/><circle cx="450.85" cy="429.87" r="4.1"/><circle cx="456.10" cy="429.99" r="4.1"/><circle cx="461.35" cy="430.10" r="4.1"/><circle cx="466.60" cy="430.22" r="4.1"/><circle cx="471.85" cy="430.33" r="4.1"/><circle cx="477.10" cy="430.44" r="4.1"/><circle cx="482.35" cy="430.56" r="4.1"/><circle cx="487.60" cy="430.67" r="4.1"/><circle cx="492.85" cy="430.79" r="4.1"/><circle cx="498.10" cy="430.90" r="4.1"/><circle cx="503.35" cy="431.02" r="4.1"/><circle cx="508.60" cy="431.13" r="4.1"/><circle cx="513.85" cy="431.24" r="4.1"/><circle cx="519.10" cy="431.36" r="4.1"/><circle cx="524.35" cy="431.47" r="4.1"/><circle cx="529.60" cy="431.59" r="4.1"/><circle cx="534.85" cy="431.70" r="4.1"/><circle cx="540.10" cy="431.82" r="4.1"/><circle cx="545.35" cy="431.93" r="4.1"/><circle cx="550.60" cy="432.04" r="4.1"/><circle cx="555.85" cy="432.16" r="4.1"/><circle cx="561.10" cy="432.27" r="4.1"/><circle cx="566.35" cy="432.39" r="4.1"/><circle cx="571.60" cy="432.50" r="4.1"/><circle cx="576.85" cy="432.62" r="4.1"/><circle cx="582.10" cy="432.73" r="4.1"/><circle cx="587.35" cy="432.84" r="4.1"/><circle cx="592.60" cy="432.96" r="4.1"/><circle cx="597.85" cy="433.07" r="4.1"/><circle cx="603.10" cy="433.19" r="4.1"/><circle cx="608.35" cy="433.30" r="4.1"/><circle cx="613.60" cy="433.42" r="4.1"/><circle cx="618.85" cy="433.53" r="4.1"/><circle cx="624.10" cy="433.64" r="4.1"/><circle cx="629.35" cy="433.76" r="4.1"/><circle cx="634.60" cy="433.87" r="4.1"/><circle cx="639.85" cy="433.99" r="4.1"/><circle cx="645.10" cy="434.10" r="4.1"/><circle cx="650.35" cy="434.22" r="4.1"/><circle cx="655.60" cy="434.33" r="4.1"/><circle cx="660.85" cy="434.44" r="4.1"/><circle cx="666.10" cy="434.56" r="4.1"/><circle cx="668.00" cy="434.60" r="4.1"/></g>
<circle cx="130.6" cy="422.90" r="3.3" fill="#142a96" stroke="#ff0000" stroke-width="1.7"/>
<line x1="130.6" y1="213.80" x2="668" y2="224.30" stroke="#00ff00" stroke-width="5.6"/>
<g fill="#00ff00"><circle cx="130.60" cy="213.80" r="4.1"/><circle cx="135.85" cy="213.90" r="4.1"/><circle cx="141.10" cy="214.01" r="4.1"/><circle cx="146.35" cy="214.11" r="4.1"/><circle cx="151.60" cy="214.21" r="4.1"/><circle cx="156.85" cy="214.31" r="4.1"/><circle cx="162.10" cy="214.42" r="4.1"/><circle cx="167.35" cy="214.52" r="4.1"/><circle cx="172.60" cy="214.62" r="4.1"/><circle cx="177.85" cy="214.72" r="4.1"/><circle cx="183.10" cy="214.83" r="4.1"/><circle cx="188.35" cy="214.93" r="4.1"/><circle cx="193.60" cy="215.03" r="4.1"/><circle cx="198.85" cy="215.13" r="4.1"/><circle cx="204.10" cy="215.24" r="4.1"/><circle cx="209.35" cy="215.34" r="4.1"/><circle cx="214.60" cy="215.44" r="4.1"/><circle cx="219.85" cy="215.54" r="4.1"/><circle cx="225.10" cy="215.65" r="4.1"/><circle cx="230.35" cy="215.75" r="4.1"/><circle cx="235.60" cy="215.85" r="4.1"/><circle cx="240.85" cy="215.95" r="4.1"/><circle cx="246.10" cy="216.06" r="4.1"/><circle cx="251.35" cy="216.16" r="4.1"/><circle cx="256.60" cy="216.26" r="4.1"/><circle cx="261.85" cy="216.36" r="4.1"/><circle cx="267.10" cy="216.47" r="4.1"/><circle cx="272.35" cy="216.57" r="4.1"/><circle cx="277.60" cy="216.67" r="4.1"/><circle cx="282.85" cy="216.77" r="4.1"/><circle cx="288.10" cy="216.88" r="4.1"/><circle cx="293.35" cy="216.98" r="4.1"/><circle cx="298.60" cy="217.08" r="4.1"/><circle cx="303.85" cy="217.19" r="4.1"/><circle cx="309.10" cy="217.29" r="4.1"/><circle cx="314.35" cy="217.39" r="4.1"/><circle cx="319.60" cy="217.49" r="4.1"/><circle cx="324.85" cy="217.60" r="4.1"/><circle cx="330.10" cy="217.70" r="4.1"/><circle cx="335.35" cy="217.80" r="4.1"/><circle cx="340.60" cy="217.90" r="4.1"/><circle cx="345.85" cy="218.01" r="4.1"/><circle cx="351.10" cy="218.11" r="4.1"/><circle cx="356.35" cy="218.21" r="4.1"/><circle cx="361.60" cy="218.31" r="4.1"/><circle cx="366.85" cy="218.42" r="4.1"/><circle cx="372.10" cy="218.52" r="4.1"/><circle cx="377.35" cy="218.62" r="4.1"/><circle cx="382.60" cy="218.72" r="4.1"/><circle cx="387.85" cy="218.83" r="4.1"/><circle cx="393.10" cy="218.93" r="4.1"/><circle cx="398.35" cy="219.03" r="4.1"/><circle cx="403.60" cy="219.13" r="4.1"/><circle cx="408.85" cy="219.24" r="4.1"/><circle cx="414.10" cy="219.34" r="4.1"/><circle cx="419.35" cy="219.44" r="4.1"/><circle cx="424.60" cy="219.54" r="4.1"/><circle cx="429.85" cy="219.65" r="4.1"/><circle cx="435.10" cy="219.75" r="4.1"/><circle cx="440.35" cy="219.85" r="4.1"/><circle cx="445.60" cy="219.95" r="4.1"/><circle cx="450.85" cy="220.06" r="4.1"/><circle cx="456.10" cy="220.16" r="4.1"/><circle cx="461.35" cy="220.26" r="4.1"/><circle cx="466.60" cy="220.36" r="4.1"/><circle cx="471.85" cy="220.47" r="4.1"/><circle cx="477.10" cy="220.57" r="4.1"/><circle cx="482.35" cy="220.67" r="4.1"/><circle cx="487.60" cy="220.78" r="4.1"/><circle cx="492.85" cy="220.88" r="4.1"/><circle cx="498.10" cy="220.98" r="4.1"/><circle cx="503.35" cy="221.08" r="4.1"/><circle cx="508.60" cy="221.19" r="4.1"/><circle cx="513.85" cy="221.29" r="4.1"/><circle cx="519.10" cy="221.39" r="4.1"/><circle cx="524.35" cy="221.49" r="4.1"/><circle cx="529.60" cy="221.60" r="4.1"/><circle cx="534.85" cy="221.70" r="4.1"/><circle cx="540.10" cy="221.80" r="4.1"/><circle cx="545.35" cy="221.90" r="4.1"/><circle cx="550.60" cy="222.01" r="4.1"/><circle cx="555.85" cy="222.11" r="4.1"/><circle cx="561.10" cy="222.21" r="4.1"/><circle cx="566.35" cy="222.31" r="4.1"/><circle cx="571.60" cy="222.42" r="4.1"/><circle cx="576.85" cy="222.52" r="4.1"/><circle cx="582.10" cy="222.62" r="4.1"/><circle cx="587.35" cy="222.72" r="4.1"/><circle cx="592.60" cy="222.83" r="4.1"/><circle cx="597.85" cy="222.93" r="4.1"/><circle cx="603.10" cy="223.03" r="4.1"/><circle cx="608.35" cy="223.13" r="4.1"/><circle cx="613.60" cy="223.24" r="4.1"/><circle cx="618.85" cy="223.34" r="4.1"/><circle cx="624.10" cy="223.44" r="4.1"/><circle cx="629.35" cy="223.54" r="4.1"/><circle cx="634.60" cy="223.65" r="4.1"/><circle cx="639.85" cy="223.75" r="4.1"/><circle cx="645.10" cy="223.85" r="4.1"/><circle cx="650.35" cy="223.96" r="4.1"/><circle cx="655.60" cy="224.06" r="4.1"/><circle cx="660.85" cy="224.16" r="4.1"/><circle cx="666.10" cy="224.26" r="4.1"/><circle cx="668.00" cy="224.30" r="4.1"/></g>
<line x1="130.6" y1="195.5" x2="130.6" y2="495.7" stroke="#111" stroke-width="1.5" stroke-dasharray="2 2.2"/>
<text x="66.4" y="336.6" font-size="19.4" fill="#eef" textLength="53" lengthAdjust="spacingAndGlyphs">Before</text>
<text x="268.6" y="336.2" font-size="19" fill="#eef" textLength="162.6" lengthAdjust="spacingAndGlyphs">After dual stretching</text>
<g font-size="16.6" fill="#1a1a1a" stroke="#1a1a1a" stroke-width="0.35"><text x="50.7" y="200.80" text-anchor="end">6.5</text><text x="50.7" y="234.16" text-anchor="end">6</text><text x="50.7" y="267.51" text-anchor="end">5.5</text><text x="50.7" y="300.87" text-anchor="end">5</text><text x="50.7" y="334.22" text-anchor="end">4.5</text><text x="50.7" y="367.58" text-anchor="end">4</text><text x="50.7" y="400.93" text-anchor="end">3.5</text><text x="50.7" y="434.29" text-anchor="end">3</text><text x="50.7" y="467.64" text-anchor="end">2.5</text><text x="50.7" y="501.00" text-anchor="end">2</text><text x="54.40" y="515" text-anchor="middle">0</text><text x="129.60" y="515" text-anchor="middle">15</text><text x="156.67" y="515" text-anchor="middle">20</text><text x="258.93" y="515" text-anchor="middle">40</text><text x="361.20" y="515" text-anchor="middle">60</text><text x="463.47" y="515" text-anchor="middle">80</text><text x="565.73" y="515" text-anchor="middle">100</text><text x="668.00" y="515" text-anchor="middle">120</text></g>
<text x="369" y="536.3" font-size="19.4" font-weight="bold" text-anchor="middle" fill="#111">Time (min)</text>
<text transform="translate(15.9,358) rotate(-90)" font-size="19.9" font-weight="bold" text-anchor="middle" fill="#111" word-spacing="-2.5">Tension <tspan letter-spacing="0.8">(kg)</tspan></text>
</svg>
</body></html>
